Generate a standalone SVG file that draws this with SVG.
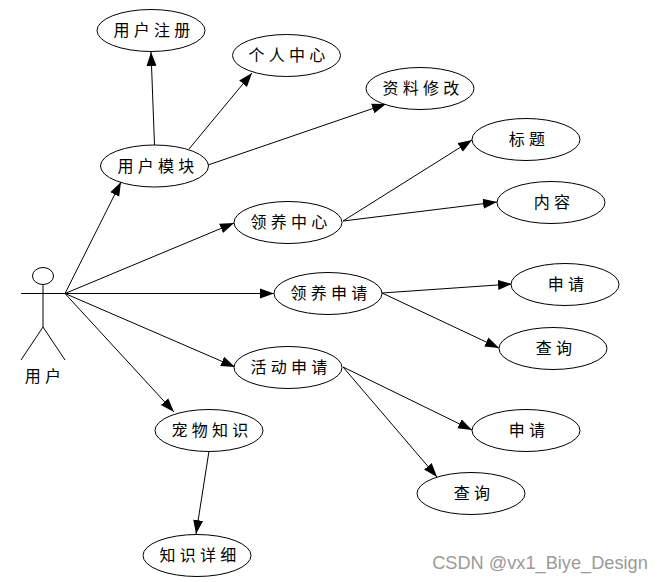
<svg xmlns="http://www.w3.org/2000/svg" width="663" height="582" viewBox="0 0 663 582">
<style>
.n ellipse{fill:#fff;stroke:#000;stroke-width:1}
text{font-family:"Noto Sans CJK SC","Liberation Sans",sans-serif;font-size:16px;fill:#000;text-anchor:middle;letter-spacing:4.200px}
.c line{stroke:#000;stroke-width:1;marker-end:url(#a)}
.p line,.p ellipse{stroke:#000;stroke-width:1;fill:#fff}
</style>
<defs><marker id="a" markerUnits="userSpaceOnUse" markerWidth="16" markerHeight="12" refX="14" refY="5.5" orient="auto"><path d="M0 0.500L14 5.500L0 10.500Z" fill="#000"/></marker></defs>
<rect width="663" height="582" fill="#fff"/>
<g class="c" id="connectors">
<line x1="65" y1="293.500" x2="121" y2="182"/>
<line x1="65" y1="293.500" x2="234" y2="223"/>
<line x1="65" y1="293.500" x2="274" y2="293.500"/>
<line x1="65" y1="293.500" x2="235" y2="367"/>
<line x1="65" y1="293.500" x2="174" y2="412"/>
<line x1="154.500" y1="145" x2="151" y2="52"/>
<line x1="189" y1="149" x2="252" y2="73"/>
<line x1="208" y1="165" x2="386" y2="104"/>
<line x1="343" y1="221" x2="472" y2="140"/>
<line x1="343" y1="221" x2="497" y2="202"/>
<line x1="382" y1="293" x2="512" y2="284"/>
<line x1="382" y1="293" x2="499" y2="348"/>
<line x1="343" y1="367" x2="472" y2="430"/>
<line x1="343" y1="367" x2="437" y2="477"/>
<line x1="209" y1="451" x2="196" y2="534"/>
</g>
<g class="p" id="actor">
<ellipse cx="43" cy="276" rx="10.500" ry="8.500"/>
<line x1="43" y1="285" x2="43" y2="327"/>
<line x1="21" y1="293.500" x2="65" y2="293.500"/>
<line x1="43" y1="327" x2="21" y2="360"/>
<line x1="43" y1="327" x2="65" y2="360"/>
<text x="45" y="382">用户</text>
</g>
<g class="n" id="n1"><ellipse cx="151" cy="30.500" rx="54" ry="21"/><text x="154" y="36">用户注册</text></g>
<g class="n" id="n2"><ellipse cx="286.500" cy="55.500" rx="54" ry="21"/><text x="289" y="61">个人中心</text></g>
<g class="n" id="n3"><ellipse cx="420" cy="88.500" rx="54" ry="21"/><text x="423" y="94">资料修改</text></g>
<g class="n" id="n4"><ellipse cx="154.500" cy="166" rx="54" ry="21"/><text x="158" y="172">用户模块</text></g>
<g class="n" id="n5"><ellipse cx="526" cy="139.500" rx="54" ry="21"/><text x="529" y="145">标题</text></g>
<g class="n" id="n6"><ellipse cx="551" cy="202.500" rx="54" ry="21"/><text x="554" y="208">内容</text></g>
<g class="n" id="n7"><ellipse cx="288" cy="222.500" rx="54" ry="21"/><text x="291" y="228">领养中心</text></g>
<g class="n" id="n8"><ellipse cx="328" cy="293.500" rx="54" ry="21"/><text x="331" y="299">领养申请</text></g>
<g class="n" id="n9"><ellipse cx="565" cy="284.500" rx="54" ry="21"/><text x="568" y="290">申请</text></g>
<g class="n" id="n10"><ellipse cx="553" cy="348.500" rx="54" ry="21"/><text x="556" y="354">查询</text></g>
<g class="n" id="n11"><ellipse cx="288" cy="367.500" rx="54" ry="21"/><text x="291" y="373">活动申请</text></g>
<g class="n" id="n12"><ellipse cx="526" cy="430.500" rx="54" ry="21"/><text x="529" y="436">申请</text></g>
<g class="n" id="n13"><ellipse cx="471" cy="493.500" rx="54" ry="21"/><text x="474" y="499">查询</text></g>
<g class="n" id="n14"><ellipse cx="209" cy="430.500" rx="54" ry="21"/><text x="212" y="436">宠物知识</text></g>
<g class="n" id="n15"><ellipse cx="197" cy="555.500" rx="54" ry="21"/><text x="200" y="561">知识详细</text></g>
<text x="540" y="569" style="font-family:'Liberation Sans',sans-serif;font-size:18.200px;fill:#9a9a9a;letter-spacing:0">CSDN @vx1_Biye_Design</text>
</svg>
